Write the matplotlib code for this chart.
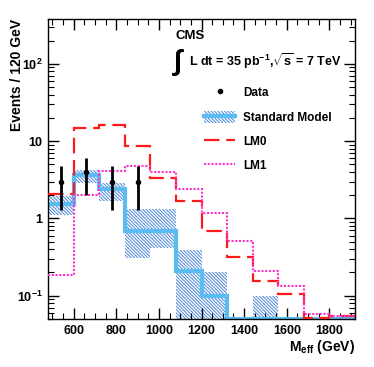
import numpy as np
import matplotlib
matplotlib.use("Agg")
import matplotlib.pyplot as plt
from matplotlib.lines import Line2D
from matplotlib.patches import Patch
from matplotlib.ticker import FixedLocator, FixedFormatter, LogLocator, MultipleLocator, NullFormatter

plt.rcParams["font.family"] = ["Liberation Sans", "DejaVu Sans"]
plt.rcParams["font.weight"] = "bold"
plt.rcParams["mathtext.fontset"] = "custom"
plt.rcParams["mathtext.rm"] = "Liberation Sans:bold"
plt.rcParams["mathtext.bf"] = "Liberation Sans:bold"
plt.rcParams["mathtext.it"] = "Liberation Sans:bold"
plt.rcParams["hatch.linewidth"] = 0.7

# bin edges in M_eff (GeV)
edges = [480, 600, 720, 840, 960, 1080, 1200, 1320, 1440, 1560, 1680, 1800, 1920]

# Standard Model prediction and its uncertainty band
sm = [1.53, 3.6, 2.41, 0.69, 0.69, 0.21, 0.1, 0.0505, 0.0505, 0.0505, 0.0505, 0.0505]
sm_up = [1.94, 4.19, 2.88, 1.31, 1.31, 0.39, 0.2, 0.0, 0.1, 0.0, 0.0, 0.0]
sm_dn = [1.10, 2.88, 1.67, 0.31, 0.41, 0.01, 0.01, 0.0, 0.01, 0.0, 0.0, 0.0]

# SUSY benchmark points
lm0 = [2.06, 14.6, 16.1, 8.54, 3.37, 1.69, 0.68, 0.315, 0.157, 0.105, 0.051, 0.054]
lm1 = [0.186, 2.02, 4.15, 4.81, 3.99, 2.43, 1.16, 0.506, 0.21, 0.134, 0.058, 0.055]

# data
data_x = [540, 660, 780, 900]
data_y = [3, 4, 3, 3]

HATCH = "\\" * 10
HATCH_COL = "#4a86dc"

fig = plt.figure(figsize=(3.74, 3.67), dpi=100)
ax = fig.add_axes([48 / 374, 1 - 319 / 367, 307 / 374, 300 / 367])

centers = [(edges[i] + edges[i + 1]) / 2 for i in range(len(sm))]
for i in range(len(sm)):
    if sm_up[i] <= 0:
        continue
    ax.bar(centers[i], sm_up[i] - sm_dn[i], bottom=sm_dn[i], width=120,
           facecolor="white", edgecolor=HATCH_COL, hatch=HATCH, linewidth=0, zorder=1)

ax.stairs(sm, edges, color="#5bbcf2", linewidth=3, baseline=None, zorder=2)
ax.stairs(lm0, edges, color="#ff1a1a", linewidth=1.6, linestyle=(0, (7, 3)), baseline=None, zorder=3)
ax.stairs(lm1, edges, color="#ff33cc", linewidth=1.5, linestyle=(0, (1, 0.8)), baseline=None, zorder=3)

err = np.sqrt(data_y)
ax.errorbar(data_x, data_y, yerr=err, fmt="o", color="black", markersize=3,
            elinewidth=2, capsize=0, zorder=4)

ax.set_yscale("log")
ax.set_xlim(480, 1920)
ax.set_ylim(0.05, 380)

ax.xaxis.set_major_locator(MultipleLocator(200))
ax.xaxis.set_minor_locator(MultipleLocator(50))
ax.yaxis.set_major_locator(FixedLocator([0.1, 1, 10, 100]))
ax.yaxis.set_major_formatter(FixedFormatter(["$10^{-1}$", "1", "10", "$10^{2}$"]))
ax.yaxis.set_minor_locator(LogLocator(base=10, subs=np.arange(2, 10)))
ax.yaxis.set_minor_formatter(NullFormatter())
ax.tick_params(which="both", direction="in", top=True, right=True, labelsize=9, pad=4)
ax.tick_params(which="major", length=8, width=1)
ax.tick_params(which="minor", length=4, width=0.8)
for lab in ax.get_xticklabels() + ax.get_yticklabels():
    lab.set_fontweight("bold")
for sp in ax.spines.values():
    sp.set_linewidth(1)

ax.set_xlabel(r"M$_{\mathrm{eff}}$ (GeV)", fontsize=10, fontweight="bold")
ax.xaxis.set_label_coords(1.0, -0.062)
ax.xaxis.label.set_horizontalalignment("right")
ax.set_ylabel("Events / 120 GeV", fontsize=10, fontweight="bold")
ax.yaxis.set_label_coords(-0.125, 1.0)
ax.yaxis.label.set_verticalalignment("top")
ax.yaxis.label.set_horizontalalignment("right")

fig.text(176 / 374, 1 - 36 / 367, "CMS", fontsize=9.5, fontweight="bold", va="center")
fig.text(172 / 374, 1 - 62 / 367, r"$\int$", fontsize=21, va="center", family="DejaVu Sans")
fig.text(189 / 374, 1 - 61 / 367, r"L dt = 35 pb$^{-1}$,$\sqrt{\mathrm{s}}$ = 7 TeV",
         fontsize=9, fontweight="bold", va="center")

handles = [
    Line2D([], [], marker="o", color="black", linestyle="none", markersize=3),
    (Patch(facecolor="white", edgecolor=HATCH_COL, hatch=HATCH, linewidth=0),
     Line2D([], [], color="#5bbcf2", linewidth=3)),
    Line2D([], [], color="#ff1a1a", linewidth=1.6, linestyle=(0, (7, 3))),
    Line2D([], [], color="#ff33cc", linewidth=1.5, linestyle=(0, (1, 0.8))),
]
labels = ["Data", "Standard Model", "LM0", "LM1"]
leg = ax.legend(handles, labels, loc="upper left", bbox_to_anchor=(0.49, 0.795),
                frameon=False, fontsize=8.5, handlelength=2.6, handletextpad=0.7,
                labelspacing=0.95, borderpad=0, handleheight=1.2)
for t in leg.get_texts():
    t.set_fontweight("bold")

fig.savefig("out.png", dpi=100)
